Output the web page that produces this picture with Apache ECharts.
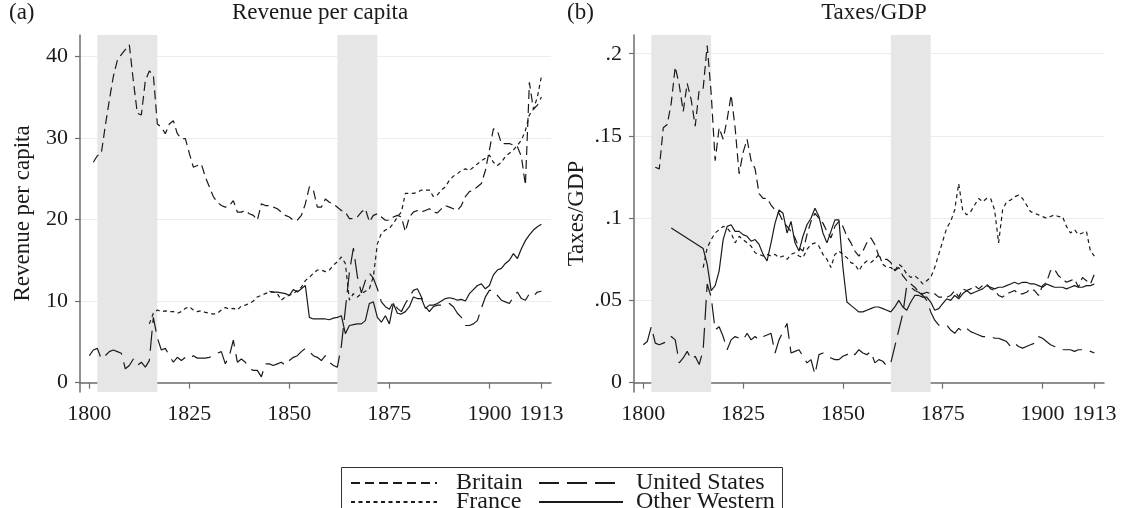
<!DOCTYPE html>
<html>
<head>
<meta charset="utf-8">
<script src="https://cdn.jsdelivr.net/npm/echarts@6/dist/echarts.min.js"></script>
<style>
html, body { margin: 0; padding: 0; background: #fff; }
#chart { width: 1123px; height: 508px; }
</style>
</head>
<body>
<div id="chart"></div>
<script>
// 年份 1800 -> 1913
var years = [];
for (var y = 1800; y <= 1913; y++) years.push(y);

var xTicks = [1800, 1825, 1850, 1875, 1900, 1913];
var revTicks = [0, 10, 20, 30, 40];
var taxTicks = [0, 0.05, 0.1, 0.15, 0.2];
// 战争时期阴影
var shadeSpans = [[1802, 1817], [1862, 1872]];

// Revenue per capita, one row per decade
var britainRev = [
    null, 27.0, 27.8, 28.1, 31.5, 34.6, 37.5, 39.5, 40.2, 40.8,
    41.4, 37.0, 33.0, 32.8, 37.0, 38.2, 37.7, 31.7, 31.3, 30.5,
    31.7, 32.1, 30.5, 29.9, 29.9, 28.1, 26.4, 26.6, 26.8, 25.2,
    24.0, 22.8, 22.1, 21.7, 21.5, 21.7, 22.3, 20.9, 20.9, 21.1,
    20.7, 20.5, 19.9, 21.9, 21.7, 21.7, 21.5, 21.3, 20.9, 20.5,
    20.3, 19.9, 19.9, 20.5, 21.9, 24.0, 23.6, 21.5, 21.5, 22.5,
    22.1, 21.9, 21.5, 21.1, 20.9, 20.1, 20.1, 20.3, 20.9, 21.3,
    19.7, 20.5, 20.7, 20.3, 19.9, 19.9, 20.3, 20.5, 20.3, 18.5,
    20.3, 20.9, 21.1, 20.9, 21.1, 21.3, 20.9, 20.8, 21.3, 21.7,
    21.5, 21.3, 21.1, 21.7, 22.8, 23.4, 23.6, 24.0, 24.4, 26.0,
    28.5, 31.1, 30.9, 29.3, 29.3, 29.3, 29.1, 28.9, 27.7, 24.2,
    36.8, 33.5, 34.0, 35.0
];
var franceRev = [
    null, null, null, null, null, null, null, null, null, null,
    null, null, null, null, null, 7.2, 8.5, 8.9, 8.7, 8.8,
    8.7, 8.7, 8.5, 8.7, 9.1, 9.3, 8.9, 8.7, 8.8, 8.6,
    8.5, 8.4, 8.5, 8.9, 9.2, 9.0, 9.1, 8.9, 9.4, 9.5,
    9.7, 10.0, 10.5, 10.7, 10.9, 11.1, 11.1, 10.9, 10.1, 10.5,
    10.7, 10.9, 11.3, 11.7, 12.5, 12.9, 13.4, 13.8, 13.8, 13.6,
    13.8, 14.4, 14.8, 15.4, 14.6, 10.1, 10.9, 10.5, 10.9, 11.2,
    11.5, 13.0, 17.0, 18.3, 18.7, 18.9, 19.5, 20.3, 20.9, 23.2,
    23.2, 23.2, 23.3, 23.6, 23.6, 23.6, 22.8, 23.0, 23.6, 24.0,
    24.8, 25.3, 25.6, 26.0, 26.2, 26.0, 26.4, 26.8, 27.2, 27.5,
    27.9, 27.0, 26.6, 27.0, 27.7, 28.1, 28.5, 29.1, 29.7, 30.9,
    32.8, 33.5, 35.0, 37.5
];
var usRev = [
    3.3, 4.0, 4.2, 2.9, 3.3, 3.8, 4.0, 3.8, 3.6, 1.7,
    2.1, 2.9, 2.1, 2.5, 1.9, 2.7, 8.0, 5.5, 4.0, 4.2,
    3.3, 2.5, 3.1, 2.7, 3.1, 2.9, 3.3, 3.0, 3.0, 3.0,
    3.1, 3.3, 3.6, 3.8, 2.3, 3.3, 5.2, 2.5, 2.9, 2.5,
    1.7, 1.5, 1.5, 0.7, 2.3, 2.3, 2.1, 2.3, 2.5, 2.1,
    2.7, 3.1, 3.3, 3.8, 4.2, 3.8, 3.3, 3.1, 2.7, 3.3,
    2.5, 2.1, 1.9, 4.5, 9.0, 13.5, 16.5, 13.0, 11.0, 12.5,
    13.4, 12.8, 11.5, 9.9, 9.3, 9.0, 9.9, 9.1, 8.7, 9.7,
    10.5, 11.3, 11.5, 10.5, 9.3, 8.7, 9.3, 9.5, 9.5, 9.6,
    9.7, 9.3, 8.5, 8.0, 7.0, 7.0, 7.2, 7.6, 9.1, 10.5,
    11.3, 11.3, 10.7, 10.1, 9.9, 9.7, 10.5, 11.1, 10.3, 10.1,
    10.9, 10.6, 11.1, 11.2
];
var otherRev = [
    null, null, null, null, null, null, null, null, null, null,
    null, null, null, null, null, null, null, null, null, null,
    null, null, null, null, null, null, null, null, null, null,
    null, null, null, null, null, null, null, null, null, null,
    null, null, null, null, null, 11.2, 11.1, 11.1, 11.0, 10.9,
    10.7, 11.4, 11.1, 11.5, 11.9, 8.0, 7.8, 7.8, 7.8, 7.8,
    7.7, 7.9, 8.0, 8.2, 6.0, 7.0, 7.1, 7.2, 7.2, 7.6,
    9.7, 9.9, 8.0, 7.4, 8.2, 7.2, 9.7, 8.5, 8.4, 8.7,
    9.3, 10.5, 10.3, 10.3, 9.1, 9.5, 9.5, 9.7, 10.0, 10.3,
    10.4, 10.3, 10.1, 10.2, 10.0, 10.9, 11.4, 11.9, 12.1, 11.5,
    11.9, 13.2, 13.8, 14.0, 14.6, 15.0, 15.8, 15.2, 16.4, 17.4,
    18.1, 18.7, 19.1, 19.4
];

// Taxes/GDP
var britainTax = [
    null, null, null, 0.131, 0.130, 0.155, 0.157, 0.170, 0.192, 0.181,
    0.165, 0.182, 0.172, 0.156, 0.178, 0.179, 0.205, 0.176, 0.135, 0.155,
    0.148, 0.160, 0.175, 0.155, 0.127, 0.140, 0.148, 0.135, 0.130, 0.115,
    0.112, 0.112, 0.108, 0.105, 0.103, 0.098, 0.095, 0.092, 0.088, 0.082,
    0.080, 0.090, 0.098, 0.103, 0.100, 0.097, 0.092, 0.088, 0.095, 0.098,
    0.095, 0.089, 0.085, 0.080, 0.077, 0.080, 0.085, 0.088, 0.084, 0.077,
    0.075, 0.075, 0.073, 0.068, 0.070, 0.065, 0.062, 0.060, 0.058, 0.055,
    0.054, 0.055, 0.054, 0.054, 0.052, 0.052, 0.052, 0.053, 0.056, 0.052,
    0.057, 0.056, 0.057, 0.059, 0.057, 0.059, 0.060, 0.057, 0.056, 0.053,
    0.052, 0.054, 0.055, 0.056, 0.054, 0.054, 0.055, 0.057, 0.056, 0.053,
    0.059, 0.061, 0.068, 0.069, 0.065, 0.063, 0.061, 0.062, 0.063, 0.058,
    0.064, 0.062, 0.060, 0.066
];
var franceTax = [
    null, null, null, null, null, null, null, null, null, null,
    null, null, null, null, null, 0.070, 0.082, 0.087, 0.091, 0.093,
    0.095, 0.094, 0.091, 0.085, 0.089, 0.087, 0.085, 0.083, 0.079, 0.078,
    0.077, 0.078, 0.077, 0.078, 0.076, 0.077, 0.075, 0.078, 0.079, 0.077,
    0.076, 0.081, 0.084, 0.085, 0.083, 0.078, 0.075, 0.070, 0.078, 0.080,
    0.078, 0.076, 0.073, 0.072, 0.068, 0.072, 0.074, 0.073, 0.075, 0.078,
    0.072, 0.070, 0.070, 0.068, 0.072, 0.070, 0.066, 0.064, 0.065, 0.063,
    0.060, 0.062, 0.064, 0.070, 0.078, 0.086, 0.094, 0.098, 0.105, 0.121,
    0.105, 0.102, 0.104, 0.108, 0.112, 0.110, 0.112, 0.112, 0.105, 0.085,
    0.105, 0.110, 0.111, 0.113, 0.114, 0.112, 0.108, 0.104, 0.103, 0.102,
    0.101, 0.100, 0.101, 0.102, 0.101, 0.101, 0.095, 0.091, 0.093, 0.090,
    0.091, 0.092, 0.080, 0.077
];
var usTax = [
    0.023, 0.025, 0.034, 0.024, 0.023, 0.024, 0.025, 0.028, 0.026, 0.012,
    0.015, 0.019, 0.014, 0.016, 0.011, 0.020, 0.060, 0.052, 0.032, 0.034,
    0.028, 0.020, 0.026, 0.028, 0.027, 0.026, 0.030, 0.026, 0.028, 0.026,
    0.028, 0.029, 0.030, 0.018, 0.026, 0.031, 0.036, 0.018, 0.019, 0.020,
    0.016, 0.012, 0.014, 0.005, 0.017, 0.018, 0.016, 0.015, 0.014, 0.014,
    0.016, 0.017, 0.019, 0.017, 0.020, 0.018, 0.017, 0.019, 0.012, 0.014,
    0.013, 0.010, 0.012, 0.022, 0.032, 0.042, 0.059, 0.058, 0.056, 0.055,
    0.053, 0.050, 0.043, 0.038, 0.035, 0.035, 0.035, 0.032, 0.030, 0.033,
    0.031, 0.033, 0.031, 0.030, 0.029, 0.028, 0.028, 0.028, 0.027, 0.027,
    0.026, 0.025, 0.022, 0.024, 0.022, 0.021, 0.022, 0.023, 0.024, 0.028,
    0.027, 0.025, 0.023, 0.022, 0.021, 0.020, 0.020, 0.020, 0.019, 0.020,
    0.020, 0.020, 0.019, 0.018
];
var otherTax = [
    null, null, null, null, null, null, null, 0.094, null, null,
    null, null, null, null, null, 0.0815, 0.072, 0.056, 0.059, 0.068,
    0.087, 0.095, 0.096, 0.092, 0.092, 0.090, 0.089, 0.086, 0.087, 0.084,
    0.078, 0.074, 0.085, 0.097, 0.105, 0.103, 0.091, 0.098, 0.085, 0.080,
    0.089, 0.096, 0.100, 0.106, 0.101, 0.091, 0.085, 0.092, 0.099, 0.099,
    0.070, 0.049, 0.047, 0.045, 0.043, 0.043, 0.044, 0.045, 0.046, 0.046,
    0.045, 0.044, 0.043, 0.046, 0.050, 0.046, 0.044, 0.049, 0.053, 0.053,
    0.052, 0.052, 0.049, 0.044, 0.045, 0.048, 0.051, 0.050, 0.053, 0.051,
    0.054, 0.056, 0.054, 0.055, 0.056, 0.057, 0.059, 0.058, 0.057, 0.058,
    0.058, 0.059, 0.060, 0.061, 0.060, 0.061, 0.061, 0.060, 0.060, 0.059,
    0.058, 0.060, 0.059, 0.058, 0.058, 0.058, 0.057, 0.058, 0.059, 0.058,
    0.058, 0.059, 0.059, 0.060
];

var FONT = 'Liberation Serif';
var INK = '#1a1a1a';
var styles = {
    'Britain': [9, 5],
    'France': [4, 3.5],
    'United States': [20, 8],
    'Other Western': 'solid'
};

function pairs(vals) {
    return years.map(function(yr, i) { return [yr, vals[i]]; });
}

function lineSeries(name, vals, idx) {
    return {
        name: name,
        type: 'line',
        xAxisIndex: idx,
        yAxisIndex: idx,
        data: pairs(vals),
        symbol: 'none',
        connectNulls: true,
        animation: false,
        z: 3,
        lineStyle: { color: INK, width: 1.2, type: styles[name] },
        itemStyle: { color: INK }
    };
}

// 灰色阴影 + 网格线
function backSeries(idx, ticks) {
    return {
        type: 'line',
        xAxisIndex: idx,
        yAxisIndex: idx,
        data: [],
        silent: true,
        animation: false,
        markLine: {
            silent: true,
            z: 0,
            symbol: 'none',
            label: { show: false },
            lineStyle: { color: '#ececec', width: 1.2, type: 'solid' },
            data: ticks.map(function(v) { return { yAxis: v }; })
        },
        markArea: {
            silent: true,
            z: 1,
            itemStyle: { color: '#e6e6e6' },
            data: shadeSpans.map(function(s) { return [{ xAxis: s[0] }, { xAxis: s[1] }]; })
        }
    };
}

function xAxis(idx) {
    return {
        type: 'value',
        gridIndex: idx,
        min: 1797.67,
        max: 1915.4,
        splitLine: { show: false },
        axisLine: { lineStyle: { color: '#6e6e6e', width: 1.5 } },
        axisTick: { customValues: xTicks, length: 6, lineStyle: { color: '#6e6e6e', width: 1.2 } },
        axisLabel: {
            customValues: xTicks, margin: 11,
            fontFamily: FONT, fontSize: 22, color: INK,
            formatter: function(v) { return String(v); }
        }
    };
}

function yAxis(idx, name, ticks, min, max, fmt) {
    return {
        type: 'value',
        gridIndex: idx,
        min: min,
        max: max,
        name: name,
        nameLocation: 'middle',
        nameRotate: 90,
        nameGap: 46,
        nameTextStyle: { fontFamily: FONT, fontSize: 23, color: INK },
        splitLine: { show: false },
        axisLine: { show: true, lineStyle: { color: '#6e6e6e', width: 1.5 } },
        axisTick: { show: true, customValues: ticks, length: 5, lineStyle: { color: '#6e6e6e', width: 1.2 } },
        axisLabel: {
            customValues: ticks, margin: 12,
            fontFamily: FONT, fontSize: 22, color: INK,
            formatter: fmt
        }
    };
}

// 图例：每项单独定位，两列两行
function legendItem(name, left, top, w, gap) {
    return {
        data: [name],
        left: left, top: top,
        itemWidth: w, itemHeight: 10,
        selectedMode: false,
        itemStyle: { opacity: 0 },
        textStyle: { fontFamily: FONT, fontSize: 24, color: INK, padding: [0, 0, 0, gap] }
    };
}

var names = ['Britain', 'France', 'United States', 'Other Western'];
var revData = [britainRev, franceRev, usRev, otherRev];
var taxData = [britainTax, franceTax, usTax, otherTax];

var series = [backSeries(0, revTicks), backSeries(1, taxTicks)];
names.forEach(function(n, i) { series.push(lineSeries(n, revData[i], 0)); });
names.forEach(function(n, i) { series.push(lineSeries(n, taxData[i], 1)); });

var chart = echarts.init(document.getElementById('chart'), null, { renderer: 'canvas' });
chart.setOption({
    backgroundColor: '#fff',
    animation: false,
    title: [
        { text: '(a)', left: 4, top: -4, textStyle: { fontFamily: FONT, fontSize: 23, fontWeight: 'normal', color: INK } },
        { text: 'Revenue per capita', left: 315, top: -4, textAlign: 'center', textStyle: { fontFamily: FONT, fontSize: 23, fontWeight: 'normal', color: INK } },
        { text: '(b)', left: 562, top: -4, textStyle: { fontFamily: FONT, fontSize: 23, fontWeight: 'normal', color: INK } },
        { text: 'Taxes/GDP', left: 869, top: -4, textAlign: 'center', textStyle: { fontFamily: FONT, fontSize: 23, fontWeight: 'normal', color: INK } }
    ],
    grid: [
        { left: 80, top: 35, width: 471, height: 357 },
        { left: 634, top: 35, width: 470, height: 357 }
    ],
    xAxis: [xAxis(0), xAxis(1)],
    yAxis: [
        yAxis(0, 'Revenue per capita', revTicks, -1.15, 42.6, function(v) { return String(v); }),
        yAxis(1, 'Taxes/GDP', taxTicks, -0.0057, 0.2114, function(v) {
            return v === 0 ? '0' : String(+v.toFixed(2)).replace(/^0/, '');
        })
    ],
    legend: [
        legendItem('Britain', 345, 466, 86, 14),
        legendItem('France', 345, 485, 86, 14),
        legendItem('United States', 533, 466, 84, 8),
        legendItem('Other Western', 533, 485, 84, 8)
    ],
    graphic: [
        {
            type: 'rect',
            shape: { x: 341.5, y: 467.5, width: 441, height: 60 },
            style: { fill: 'none', stroke: '#333', lineWidth: 1 },
            z: -1
        }
    ],
    series: series
});
</script>
</body>
</html>
